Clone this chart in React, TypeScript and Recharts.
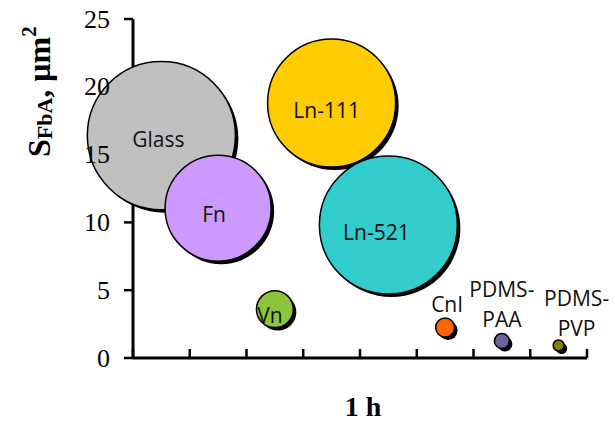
import { ScatterChart, Scatter, XAxis, YAxis, ZAxis } from 'recharts';

// substrates in the order they sit along the axis
const substrates = ['Glass', 'Fn', 'Vn', 'Ln-111', 'Ln-521', 'CnI', 'PDMS-PAA', 'PDMS-PVP'];
const positions = [1, 2, 3, 4, 5, 6, 7, 8];
const areaValues = [16.4, 11.05, 3.6, 18.8, 9.8, 2.25, 1.25, 0.92]; // S_FbA, µm²
const bubbleSizes = [54.8, 28.1, 3.4, 41, 47.6, 0.9, 0.56, 0.3];
const yTicks = [0, 5, 10, 15, 20, 25];
const xTicks = [0.5, 1.5, 2.5, 3.5, 4.5, 5.5, 6.5, 7.5, 8.5];

const serif = "'Liberation Serif', 'Times New Roman', serif";

const fills: Record<string, string> = {
  Glass: '#C0C0C0',
  Fn: '#CC99FF',
  Vn: '#8CC43C',
  'Ln-111': '#FFCC00',
  'Ln-521': '#33CCCC',
  CnI: '#FF6600',
  'PDMS-PAA': '#666699',
  'PDMS-PVP': '#808000',
};

// label lines and their offset from the bubble centre
const labels: Record<string, { lines: string[]; dx: number; dy: number }> = {
  Glass: { lines: ['Glass'], dx: -3, dy: 3 },
  Fn: { lines: ['Fn'], dx: -4, dy: 6 },
  Vn: { lines: ['Vn'], dx: -5, dy: 6 },
  'Ln-111': { lines: ['Ln-111'], dx: -5, dy: 7 },
  'Ln-521': { lines: ['Ln-521'], dx: -12, dy: 7 },
  CnI: { lines: ['CnI'], dx: 2, dy: -23 },
  'PDMS-PAA': { lines: ['PDMS-', 'PAA'], dx: 0, dy: -52 },
  'PDMS-PVP': { lines: ['PDMS-', 'PVP'], dx: 18, dy: -48 },
};

const data = substrates.map((name, i) => ({
  name,
  x: positions[i],
  y: areaValues[i],
  z: bubbleSizes[i],
}));

const Bubble = (props: any) => {
  const { cx, cy, size, payload } = props;
  const r = Math.sqrt(Math.max(size, 0) / Math.PI);
  const lab = labels[payload.name];
  return (
    <g>
      <circle cx={cx + 3} cy={cy + 3} r={r} fill="#000" />
      <circle cx={cx} cy={cy} r={r} fill={fills[payload.name]} stroke="#000" strokeWidth={1.5} />
      {lab.lines.map((t, k) => (
        <text
          key={k}
          x={cx + lab.dx}
          y={cy + lab.dy + k * 30}
          textAnchor="middle"
          dominantBaseline="central"
          fontFamily="'Open Sans', sans-serif"
          fontSize={21}
          fill="#111"
        >
          {t}
        </text>
      ))}
    </g>
  );
};

const NoTick = () => <g />;

// tick numbers drawn over the bubbles, like the original
const YTickLabel = (props: any) => {
  const { y, payload } = props;
  return (
    <text x={110} y={y} textAnchor="end" dominantBaseline="central" fontFamily={serif} fontSize={26} fill="#000">
      {payload.value}
    </text>
  );
};

const YTitle = () => (
  <text x={50} y={157} transform="rotate(-90, 50, 157)" fontFamily={serif} fontWeight="bold" fill="#000">
    <tspan fontSize={32}>S</tspan>
    <tspan fontSize={22} dy={2}>FbA</tspan>
    <tspan fontSize={32} dy={-2}>, μm</tspan>
    <tspan fontSize={21} dy={-14}>2</tspan>
  </text>
);

const XTitle = () => (
  <text x={363} y={416} textAnchor="middle" fontFamily={serif} fontWeight="bold" fontSize={28} fill="#000">
    1 h
  </text>
);

export default function App() {
  return (
    <div style={{ width: 615, height: 422, background: '#fff' }}>
      <style>{`body{margin:0}`}</style>
      <ScatterChart width={615} height={422} margin={{ top: 19, right: 28, bottom: 64, left: 0 }}>
        <XAxis
          type="number"
          dataKey="x"
          domain={[0.5, 8.5]}
          ticks={xTicks}
          mirror
          tick={NoTick}
          tickSize={9}
          axisLine={{ stroke: '#000', strokeWidth: 3 }}
          tickLine={{ stroke: '#000', strokeWidth: 2.5 }}
          label={<XTitle />}
        />
        <YAxis
          yAxisId="main"
          type="number"
          dataKey="y"
          domain={[0, 25]}
          ticks={yTicks}
          width={133}
          tickSize={9}
          tick={NoTick}
          axisLine={{ stroke: '#000', strokeWidth: 3 }}
          tickLine={{ stroke: '#000', strokeWidth: 2.5 }}
          label={<YTitle />}
        />
        <ZAxis type="number" dataKey="z" domain={[0, 100]} range={[0, Math.PI * 10000]} />
        <Scatter yAxisId="main" data={data} shape={<Bubble />} isAnimationActive={false} />
        <YAxis
          yAxisId="labels"
          type="number"
          domain={[0, 25]}
          allowDataOverflow
          ticks={yTicks}
          mirror
          axisLine={false}
          tickLine={false}
          tick={YTickLabel}
        />
      </ScatterChart>
    </div>
  );
}
